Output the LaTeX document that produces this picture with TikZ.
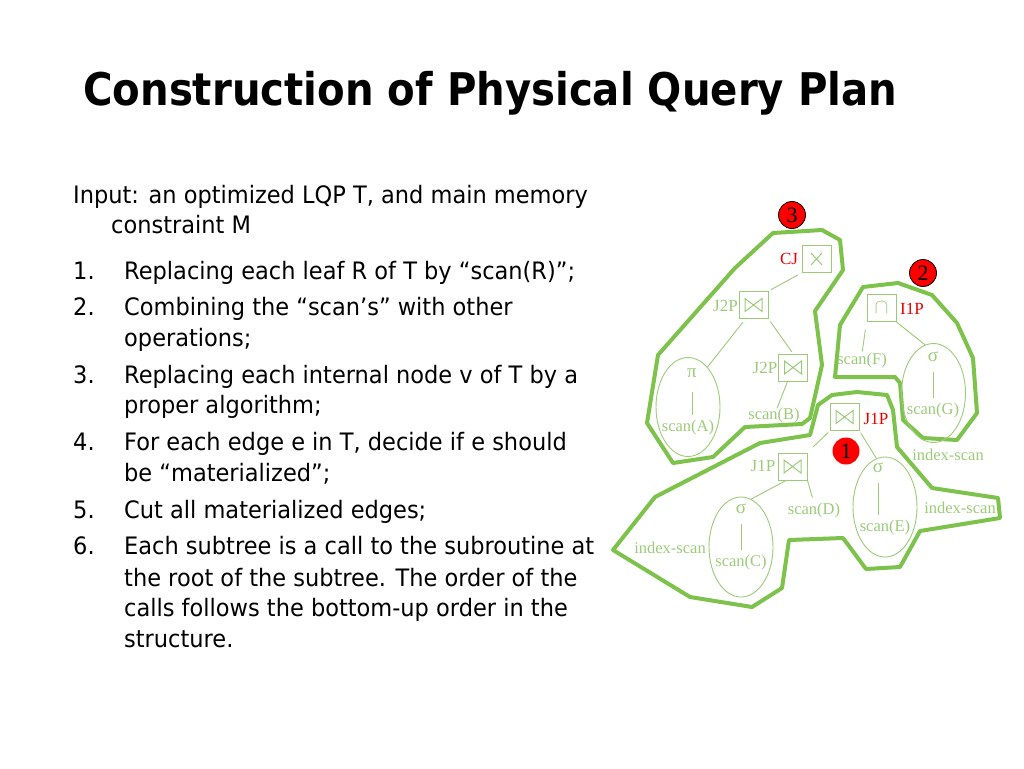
\documentclass[tikz,border=0pt]{standalone}
\usepackage{fontspec}
\usepackage{graphicx}
\setmainfont{DejaVu Sans}
\newfontfamily\diagfont{Liberation Serif}
\usetikzlibrary{shapes.geometric}
\definecolor{outl}{HTML}{7DC24B}
\definecolor{lgr}{HTML}{9CCB78}
\definecolor{rlab}{HTML}{E60000}
\newlength\reflen
\newlength\titlelen
\AtBeginDocument{%
  \settowidth\reflen{\fontsize{24}{28}\selectfont Each subtree is a call to the subroutine at}%
  \settowidth\titlelen{\fontsize{45}{50}\selectfont\bfseries Construction of Physical Query Plan}%
  \pgfmathsetmacro\bsx{470/\reflen}%
  \pgfmathsetmacro\tsx{814/\titlelen}%
  \xdef\bsx{\bsx}\xdef\tsx{\tsx}%
}
\newcommand\bline[1]{\scalebox{\bsx}[1]{#1}}
\tikzset{
  outline/.style={draw=outl, line width=4pt, line join=round},
  opbox/.style={draw=lgr, line width=1pt, minimum width=29pt, minimum height=27pt, inner sep=0pt},
  joinop/.style={opbox, path picture={\draw[lgr, line width=1pt]
      ([xshift=6pt,yshift=-7pt]path picture bounding box.north west) --
      ([xshift=-6pt,yshift=7pt]path picture bounding box.south east) --
      ([xshift=-6pt,yshift=-7pt]path picture bounding box.north east) --
      ([xshift=6pt,yshift=7pt]path picture bounding box.south west) -- cycle;}},
  crossop/.style={opbox, path picture={\draw[lgr, line width=1pt]
      ([xshift=-5.5pt,yshift=6pt]path picture bounding box.center) --
      ([xshift=5.5pt,yshift=-6pt]path picture bounding box.center)
      ([xshift=-5.5pt,yshift=-6pt]path picture bounding box.center) --
      ([xshift=5.5pt,yshift=6pt]path picture bounding box.center);}},
  capop/.style={opbox, text=lgr, font=\fontsize{20}{20}\selectfont},
  lbl/.style={font=\diagfont\fontsize{17}{17}\selectfont, text=lgr, inner sep=0pt},
  rlbl/.style={lbl, text=rlab},
  scanlbl/.style={font=\diagfont\fontsize{16.5}{16.5}\selectfont, text=lgr, inner sep=0pt},
  greek/.style={font=\diagfont\fontsize{19}{19}\selectfont, text=lgr, inner sep=0pt},
  ell/.style={draw=lgr, line width=0.9pt, ellipse, minimum width=64pt, minimum height=99pt, inner sep=0pt},
  edge/.style={draw=lgr, line width=0.9pt},
  vline/.style={draw=lgr, line width=0.9pt, shorten <=10pt, shorten >=5pt},
  numc/.style={circle, fill=red, draw=black, line width=0.8pt, minimum size=27pt, inner sep=0pt, font=\diagfont\fontsize{22}{22}\selectfont},
  body/.style={anchor=base west, inner sep=0pt, font=\fontsize{24}{28}\selectfont},
}
\begin{document}
\begin{tikzpicture}[x=1pt, y=-1pt]
\useasboundingbox (0,0) rectangle (1024,768);

% title
\node[anchor=base west, inner sep=0pt, font=\fontsize{45}{50}\selectfont\bfseries] (title) at (83,105)
  {\scalebox{\tsx}[1]{Construction of Physical Query Plan}};

% body text
\node[body] (in1) at (73,203) {\bline{Input: an optimized LQP T, and main memory}};
\node[body] (in2) at (111,233) {\bline{constraint M}};
\node[body] (n1) at (73,279) {\bline{1.}};
\node[body] (t1) at (124,279) {\bline{Replacing each leaf R of T by “scan(R)”;}};
\node[body] (n2) at (73,315) {\bline{2.}};
\node[body] (t2a) at (124,315) {\bline{Combining the “scan’s” with other}};
\node[body] (t2b) at (124,346) {\bline{operations;}};
\node[body] (n3) at (73,383) {\bline{3.}};
\node[body] (t3a) at (124,383) {\bline{Replacing each internal node v of T by a}};
\node[body] (t3b) at (124,413) {\bline{proper algorithm;}};
\node[body] (n4) at (73,450) {\bline{4.}};
\node[body] (t4a) at (124,450) {\bline{For each edge e in T, decide if e should}};
\node[body] (t4b) at (124,481) {\bline{be “materialized”;}};
\node[body] (n5) at (73,518) {\bline{5.}};
\node[body] (t5) at (124,518) {\bline{Cut all materialized edges;}};
\node[body] (n6) at (73,554) {\bline{6.}};
\node[body] (t6a) at (124,554) {\bline{Each subtree is a call to the subroutine at}};
\node[body] (t6b) at (124,586) {\bline{the root of the subtree. The order of the}};
\node[body] (t6c) at (124,616) {\bline{calls follows the bottom-up order in the}};
\node[body] (t6d) at (124,647) {\bline{structure.}};

% outlines
\draw[outline] (773,233) -- (822,230) -- (840,240) -- (843,270) -- (815,311) -- (822,365)
  -- (810,418) -- (802,424) -- (745,427) -- (713,457) -- (673,463) -- (647,423)
  -- (658,355) -- (735,268) -- cycle;
\draw[outline] (863,287) -- (898,283) -- (932,295) -- (957,323) -- (973,358) -- (977,413)
  -- (957,440) -- (923,438) -- (903,420) -- (900,383) -- (895,377) -- (835,377)
  -- (840,325) -- cycle;
\draw[outline] (613,550) -- (655,497) -- (760,443) -- (810,435) -- (818,405) -- (832,395)
  -- (857,392) -- (887,395) -- (893,410) -- (897,447) -- (932,488) -- (998,498)
  -- (1000,518) -- (920,531) -- (900,567) -- (866,569) -- (843,538) -- (789,540)
  -- (782,588) -- (752,607) -- (690,597) -- cycle;

% operator boxes
\node[crossop] (cj) at (816.5,259) {};
\node[joinop] (j2pa) at (753.5,305) {};
\node[joinop] (j2pb) at (793,367.5) {};
\node[joinop] (j1pa) at (844.5,417) {};
\node[joinop] (j1pb) at (792.5,466.5) {};
\node[capop] (i1p) at (881.5,308) {$\cap$};

% operator labels
\node[rlbl] (lcj) at (789,259) {CJ};
\node[lbl] (lj2pa) at (725.5,306) {J2P};
\node[lbl] (lj2pb) at (765,368) {J2P};
\node[rlbl] (lj1pa) at (876,419) {J1P};
\node[lbl] (lj1pb) at (763,466) {J1P};
\node[rlbl] (li1p) at (912,309) {I1P};

% ellipses
\node[ell] (eA) at (688,407) {};
\node[ell] (eG) at (933.5,393) {};
\node[ell, minimum height=100pt] (eE) at (885,507) {};
\node[ell, minimum height=100pt] (eC) at (741,547) {};

% ellipse contents
\node[greek] (piA) at (692,373) {π};
\node[scanlbl] (scanA) at (688,428) {scan(A)};
\node[greek] (sigG) at (933,357) {σ};
\node[scanlbl] (scanG) at (933,411) {scan(G)};
\node[greek] (sigE) at (878,468) {σ};
\node[scanlbl] (scanE) at (885,528) {scan(E)};
\node[greek] (sigC) at (741,509) {σ};
\node[scanlbl] (scanC) at (741,563) {scan(C)};
\draw[vline, shorten <=14pt] (piA) -- (piA |- scanA.north);
\draw[vline] (sigG) -- (sigG |- scanG.north);
\draw[vline] (sigE) -- (sigE |- scanE.north);
\draw[vline] (sigC) -- (sigC |- scanC.north);

% other leaves
\node[scanlbl] (scanB) at (774,416) {scan(B)};
\node[scanlbl] (scanD) at (814,511) {scan(D)};
\node[scanlbl] (scanF) at (862,361) {scan(F)};
\node[scanlbl] (isC) at (670,548) {index-scan};
\node[scanlbl] (isE) at (960,508) {index-scan};
\node[scanlbl] (isG) at (948,455) {index-scan};

% tree edges
\draw[edge, shorten <=4pt, shorten >=3pt] (cj.south west) -- (j2pa.north east);
\draw[edge, shorten <=4pt] (j2pa.-120) -- (eA.64);
\draw[edge, shorten <=3pt, shorten >=2pt] (j2pa.south east) -- (j2pb.north);
\draw[edge] (j2pb) -- (scanB);
\draw[edge, shorten <=2pt, shorten >=8pt] (j1pa) -- (j1pb);
\draw[edge, shorten <=2pt] (j1pa.south east) -- (eE.100);
\draw[edge] (j1pb.-115) -- (eC.78);
\draw[edge, shorten >=6pt] (j1pb.south east) -- (scanD.north);
\draw[edge, shorten <=8pt, shorten >=2pt] (i1p.south west) -- (scanF.north);
\draw[edge] (i1p.south east) -- (eG.100);

% numbered circles
\node[numc] (c3) at (792,215) {3};
\node[numc] (c2) at (923,273) {2};
\node[numc, draw=none] (c1) at (846,451) {1};
\end{tikzpicture}
\end{document}
